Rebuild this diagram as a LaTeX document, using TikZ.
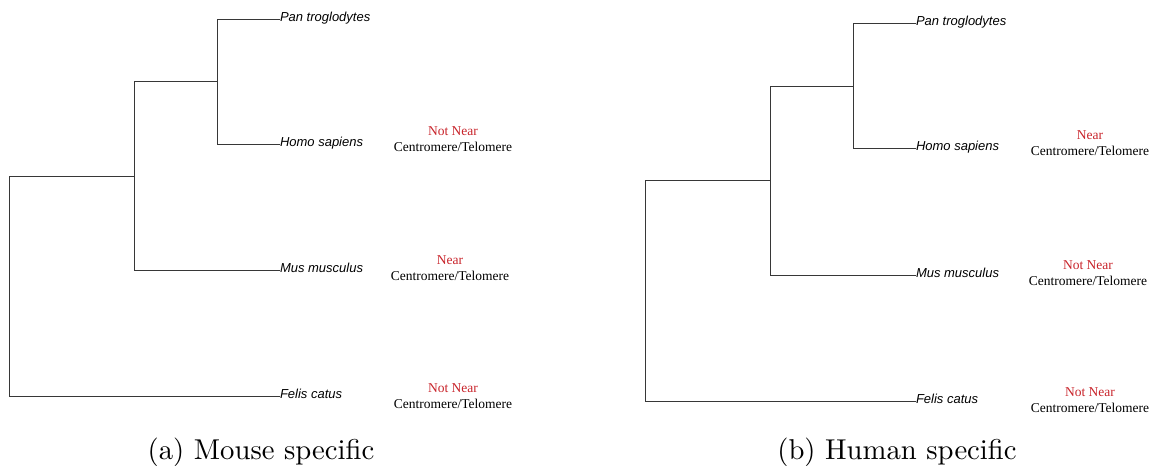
\documentclass[tikz,border=0pt]{standalone}
\usepackage{fontspec}
\newfontfamily\specfont{Liberation Sans}
\newfontfamily\notefont{Liberation Serif}
\newfontface\capfont{lmroman10-regular.otf}
\definecolor{nearred}{RGB}{200,35,42}
\definecolor{branch}{RGB}{55,55,55}
\tikzset{
  leaf/.style={anchor=mid west, inner sep=0pt, outer sep=0pt, font=\specfont\itshape\fontsize{13}{15}\selectfont},
  notetop/.style={anchor=base, inner sep=0pt, text=nearred, font=\notefont\fontsize{13.5}{16}\selectfont},
  notebot/.style={anchor=base, inner sep=0pt, text=black, font=\notefont\fontsize{13.5}{16}\selectfont},
  capt/.style={anchor=base, inner sep=0pt, font=\capfont\fontsize{28.7}{34}\selectfont},
  edge/.style={draw=branch, line width=1pt}
}
\begin{document}
\begin{tikzpicture}[x=1pt,y=-1pt]
\useasboundingbox (0,0) rectangle (1152,466);
% ---------- (a) ----------
\node[leaf] (a-pan) at (280,19) {Pan troglodytes};
\node[leaf] (a-homo) at (280,144) {Homo sapiens};
\node[leaf] (a-mus) at (280,270) {Mus musculus};
\node[leaf] (a-fel) at (280,396) {Felis catus};
\coordinate (a-ph) at (217,81);
\coordinate (a-phm) at (134,176);
\coordinate (a-root) at (9,286);
\draw[edge] (a-ph) |- (a-pan.mid west);
\draw[edge] (a-ph) |- (a-homo.mid west);
\draw[edge] (a-phm) |- (a-ph);
\draw[edge] (a-phm) |- (a-mus.mid west);
\draw[edge] (a-root) |- (a-phm);
\draw[edge] (a-root) |- (a-fel.mid west);
\node[notetop] (a-n1) at (453,135) {Not Near};
\node[notebot] (a-c1) at (453,151) {Centromere/Telomere};
\node[notetop] (a-n2) at (450,264) {Near};
\node[notebot] (a-c2) at (450,280) {Centromere/Telomere};
\node[notetop] (a-n3) at (453,392) {Not Near};
\node[notebot] (a-c3) at (453,408) {Centromere/Telomere};
\node[capt] (a-cap) at (261,459) {(a) Mouse specific};
% ---------- (b) ----------
\node[leaf] (b-pan) at (916,23) {Pan troglodytes};
\node[leaf] (b-homo) at (916,148) {Homo sapiens};
\node[leaf] (b-mus) at (916,275) {Mus musculus};
\node[leaf] (b-fel) at (916,401) {Felis catus};
\coordinate (b-ph) at (853,86);
\coordinate (b-phm) at (770,180);
\coordinate (b-root) at (645,290);
\draw[edge] (b-ph) |- (b-pan.mid west);
\draw[edge] (b-ph) |- (b-homo.mid west);
\draw[edge] (b-phm) |- (b-ph);
\draw[edge] (b-phm) |- (b-mus.mid west);
\draw[edge] (b-root) |- (b-phm);
\draw[edge] (b-root) |- (b-fel.mid west);
\node[notetop] (b-n1) at (1090,139.5) {Near};
\node[notebot] (b-c1) at (1090,155.5) {Centromere/Telomere};
\node[notetop] (b-n2) at (1088,269.5) {Not Near};
\node[notebot] (b-c2) at (1088,285.5) {Centromere/Telomere};
\node[notetop] (b-n3) at (1090,396.5) {Not Near};
\node[notebot] (b-c3) at (1090,412.5) {Centromere/Telomere};
\node[capt] (b-cap) at (897,459) {(b) Human specific};
\end{tikzpicture}
\end{document}
